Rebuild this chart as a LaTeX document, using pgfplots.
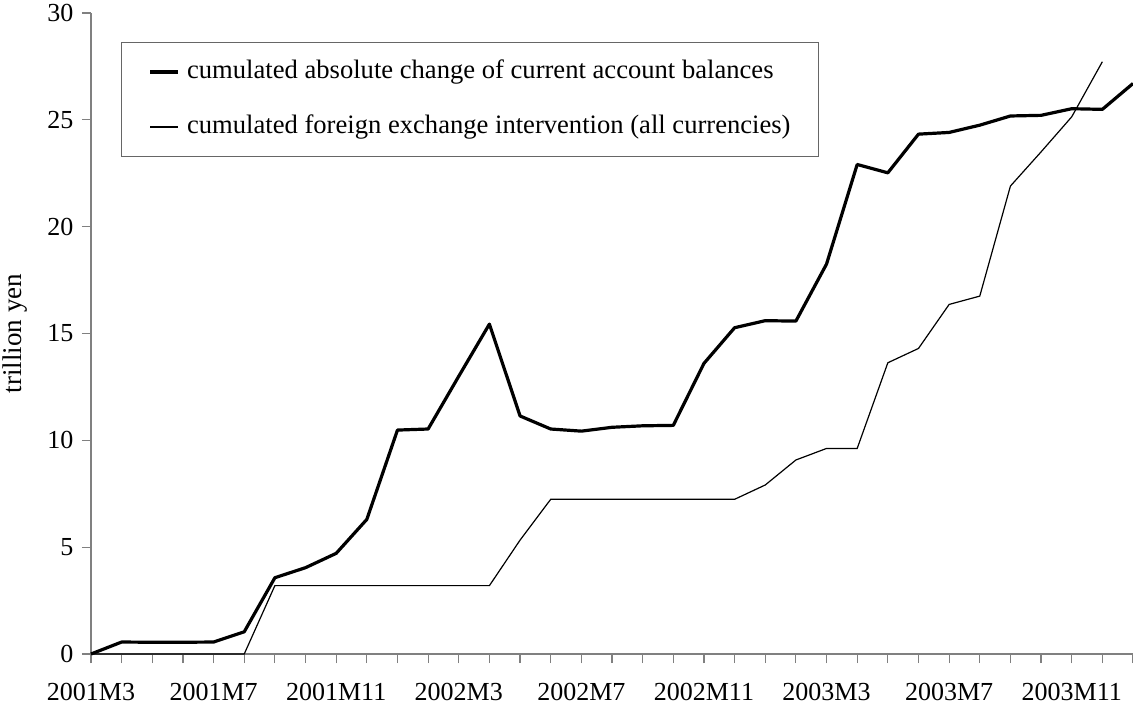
\documentclass[border=0pt]{standalone}
\usepackage{fontspec}
\setmainfont{Liberation Serif}
\usepackage{pgfplots}
\pgfplotsset{compat=1.18}
\begin{document}
\begin{tikzpicture}
\useasboundingbox (-45.5pt,-26pt) rectangle (521pt,327pt);
\begin{axis}[
  anchor=south west, at={(0pt,0pt)},
  scale only axis,
  width=521pt, height=320.5pt,
  xmin=0, xmax=34, ymin=0, ymax=30,
  axis lines*=left,
  axis line style={draw=gray, line width=0.6pt},
  tick style={draw=gray, line width=0.6pt},
  tick align=outside,
  major tick length=4.5pt, minor tick length=4.5pt,
  xtick={0,4,...,32},
  xticklabels={2001M3,2001M7,2001M11,2002M3,2002M7,2002M11,2003M3,2003M7,2003M11},
  minor xtick={0,...,34},
  ytick={0,5,...,30},
  /pgf/number format/assume math mode=true,
  tick label style={font=\fontsize{13}{15}\selectfont},
  xticklabel style={yshift=-6.4pt},
  yticklabel style={xshift=-0.8pt},
  every axis y label/.style={at={(axis description cs:-0.0667,0.5)},rotate=90,anchor=base},
  ylabel={trillion yen},
  label style={font=\fontsize{13.5}{15}\selectfont},
  clip=false,
  legend style={at={(rel axis cs:0.0285,0.955)}, anchor=north west,
    draw=gray!80!black, line width=0.6pt,
    inner xsep=13.8pt, inner ysep=8.8pt, row sep=15.5pt, column sep=3.5pt,
    font=\fontsize{13.3}{15}\selectfont,
    nodes={inner sep=0pt, text height=9pt, text depth=3pt}},
  legend cell align=left,
  legend image code/.code={\draw[#1] (0pt,0pt) -- (14pt,0pt);},
]
\addplot[black, line width=1.6pt, line join=round] coordinates {
(0,0) (1,0.56) (2,0.55) (3,0.55) (4,0.56) (5,1.04) (6,3.57) (7,4.04) (8,4.71) (9,6.30)
(10,10.48) (11,10.53) (12,13.0) (13,15.44) (14,11.14) (15,10.53) (16,10.43) (17,10.61)
(18,10.68) (19,10.70) (20,13.6) (21,15.27) (22,15.6) (23,15.58) (24,18.25) (25,22.91)
(26,22.52) (27,24.33) (28,24.41) (29,24.75) (30,25.18) (31,25.21) (32,25.52) (33,25.49) (34,26.70)
};
\addlegendentry{cumulated absolute change of current account balances}
\addplot[black, line width=0.6pt] coordinates {
(0,0) (1,0) (2,0) (3,0) (4,0) (5,0) (6,3.2) (7,3.2) (8,3.2) (9,3.2) (10,3.2) (11,3.2)
(12,3.2) (13,3.2) (14,5.33) (15,7.24) (16,7.24) (17,7.24) (18,7.24) (19,7.24) (20,7.24)
(21,7.24) (22,7.91) (23,9.08) (24,9.62) (25,9.62) (26,13.63) (27,14.3) (28,16.36)
(29,16.75) (30,21.9) (31,23.5) (32,25.14) (33,27.72)
};
\addlegendentry{cumulated foreign exchange intervention (all currencies)}
\end{axis}
\end{tikzpicture}
\end{document}
